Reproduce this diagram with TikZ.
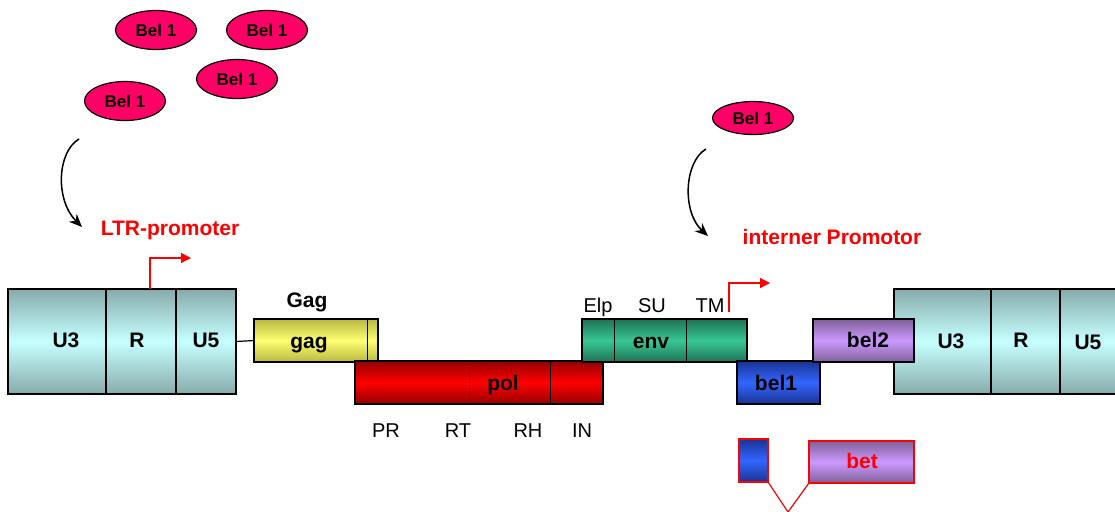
\documentclass[tikz,border=0pt]{standalone}
\usepackage{fontspec}
\setmainfont{Liberation Sans}
\usepackage{xcolor}
\usetikzlibrary{arrows.meta,shapes}
\definecolor{ltrC}{rgb}{0.78,1,1}
\definecolor{ltrE}{rgb}{0.53,0.67,0.67}
\definecolor{gagC}{rgb}{1,1,0.45}
\definecolor{gagE}{rgb}{0.72,0.72,0.25}
\definecolor{polC}{rgb}{1,0,0}
\definecolor{polE}{rgb}{0.58,0,0}
\definecolor{envC}{rgb}{0.22,0.78,0.58}
\definecolor{envE}{rgb}{0.12,0.45,0.33}
\definecolor{belOneC}{rgb}{0.2,0.4,1}
\definecolor{belOneE}{rgb}{0.1,0.2,0.58}
\definecolor{belTwoC}{rgb}{0.8,0.6,1}
\definecolor{belTwoE}{rgb}{0.5,0.38,0.6}
\definecolor{protC}{rgb}{1,0,0.4}

\begin{document}
\begin{tikzpicture}[x=0.5pt,y=-0.5pt,
    seg/.style={draw,line width=0.7pt,inner sep=0pt,outer sep=0pt,anchor=north west},
    ltrSeg/.style={seg,top color=ltrE,bottom color=ltrE,middle color=ltrC,minimum height=52.5pt},
    geneSeg/.style={seg,top color=#1E,bottom color=#1E,middle color=#1C,minimum height=21.5pt},
    protein/.style={ellipse,draw,line width=0.6pt,fill=protC,inner sep=0pt,
        minimum width=40.5pt,minimum height=19.5pt,font=\fontsize{8.5}{10}\selectfont\bfseries},
    boldLab/.style={inner sep=0pt,text height=0.72em,text depth=0pt,font=\fontsize{10.5}{12}\selectfont\bfseries},
    thinLab/.style={inner sep=0pt,text height=0.72em,text depth=0pt,font=\fontsize{10}{12}\selectfont},
    promLab/.style={boldLab,text=red},
    promArrow/.style={draw=red,line width=0.6pt,-{Triangle[length=5pt,width=5pt]}},
    bindArrow/.style={draw,line width=0.75pt,-{Stealth[length=6.5pt,width=5.5pt]}}
]
\useasboundingbox (0,0) rectangle (1115,511);

% Bel 1 proteins
\node[protein] (bel1a) at (156,30) {Bel 1};
\node[protein] (bel1b) at (267,30) {Bel 1};
\node[protein] (bel1c) at (237,79) {Bel 1};
\node[protein] (bel1d) at (125,101) {Bel 1};
\node[protein,minimum height=16.5pt] (bel1e) at (753,118) {Bel 1};

% binding arrows
\coordinate (ltrFrom) at (79,139);
\coordinate (ltrTo) at (82,227);
\draw[bindArrow] (ltrFrom) .. controls (57,152) and (55,200) .. (ltrTo);
\coordinate (ipFrom) at (706,149);
\coordinate (ipTo) at (708,236);
\draw[bindArrow] (ipFrom) .. controls (684,162) and (682,212) .. (ipTo);

\node[promLab] (ltrProm) at (170,228) {LTR-promoter};
\node[promLab] (intProm) at (832,237) {interner Promotor};

% left LTR
\node[ltrSeg,minimum width=49pt] (lU3) at (8,289) {};
\node[ltrSeg,minimum width=35pt] (lR) at (106,289) {};
\node[ltrSeg,minimum width=30pt] (lU5) at (176,289) {};
\node[boldLab] at (66,340) {U3};
\node[boldLab] at (137,340) {R};
\node[boldLab] at (206,340) {U5};

% gag
\node[geneSeg=gag,minimum width=62pt] (gag) at (254,319) {};
\draw[line width=0.5pt] (367,318) -- (367,362);
\node[boldLab] at (309,341) {gag};
\node[boldLab] at (307,300) {Gag};
\draw[line width=0.6pt] (lU5.east) -- (gag.west);

% pol
\node[geneSeg=pol,minimum width=124pt] (pol) at (355,361) {};
\draw[line width=0.5pt,densely dotted] (469,361) -- (469,404);
\draw[line width=0.5pt] (550,361) -- (550,404);
\node[boldLab] at (503,383) {pol};
\node[thinLab] at (386,430) {PR};
\node[thinLab] at (458,430) {RT};
\node[thinLab] at (528,430) {RH};
\node[thinLab] at (582,430) {IN};

% env
\node[geneSeg=env,minimum width=82.5pt] (env) at (582,319) {};
\draw[line width=0.5pt] (614,319) -- (614,362);
\draw[line width=0.5pt] (686,319) -- (686,362);
\node[boldLab] at (651,341) {env};
\node[thinLab] at (598,305) {Elp};
\node[thinLab] at (652,305) {SU};
\node[thinLab] at (710,305) {TM};

% bel1
\node[geneSeg=belOne,minimum width=41.5pt] (bel1) at (737,361) {};
\node[boldLab] at (776,383) {bel1};

% right LTR
\node[ltrSeg,minimum width=48.5pt] (rU3) at (894,289) {};
\node[ltrSeg,minimum width=34.5pt] (rR) at (991,289) {};
\node[ltrSeg,minimum width=30pt] (rU5) at (1060,289) {};
\node[boldLab] at (951,341) {U3};
\node[boldLab] at (1021,340) {R};
\node[boldLab] at (1088,342) {U5};

% bel2
\node[geneSeg=belTwo,minimum width=50.5pt] (bel2) at (813,319) {};
\node[boldLab] at (868,340) {bel2};

% promoter arrows
\coordinate (ltrStart) at (150,289);
\draw[promArrow] (ltrStart) -- (150,258) -- (191,258);
\coordinate (ipStart) at (729,312);
\draw[promArrow] (ipStart) -- (729,283) -- (770,283);

% bet
\node[geneSeg=belOne,draw=red,minimum width=14.5pt] (betExon) at (739,439) {};
\node[geneSeg=belTwo,draw=red,minimum width=52.5pt,minimum height=21pt] (bet) at (809,441) {};
\node[promLab] at (862,461) {bet};
\coordinate (spliceTip) at (788,512);
\draw[red,line width=0.6pt] (betExon.south east) -- (spliceTip) -- (bet.south west);
\end{tikzpicture}
\end{document}
